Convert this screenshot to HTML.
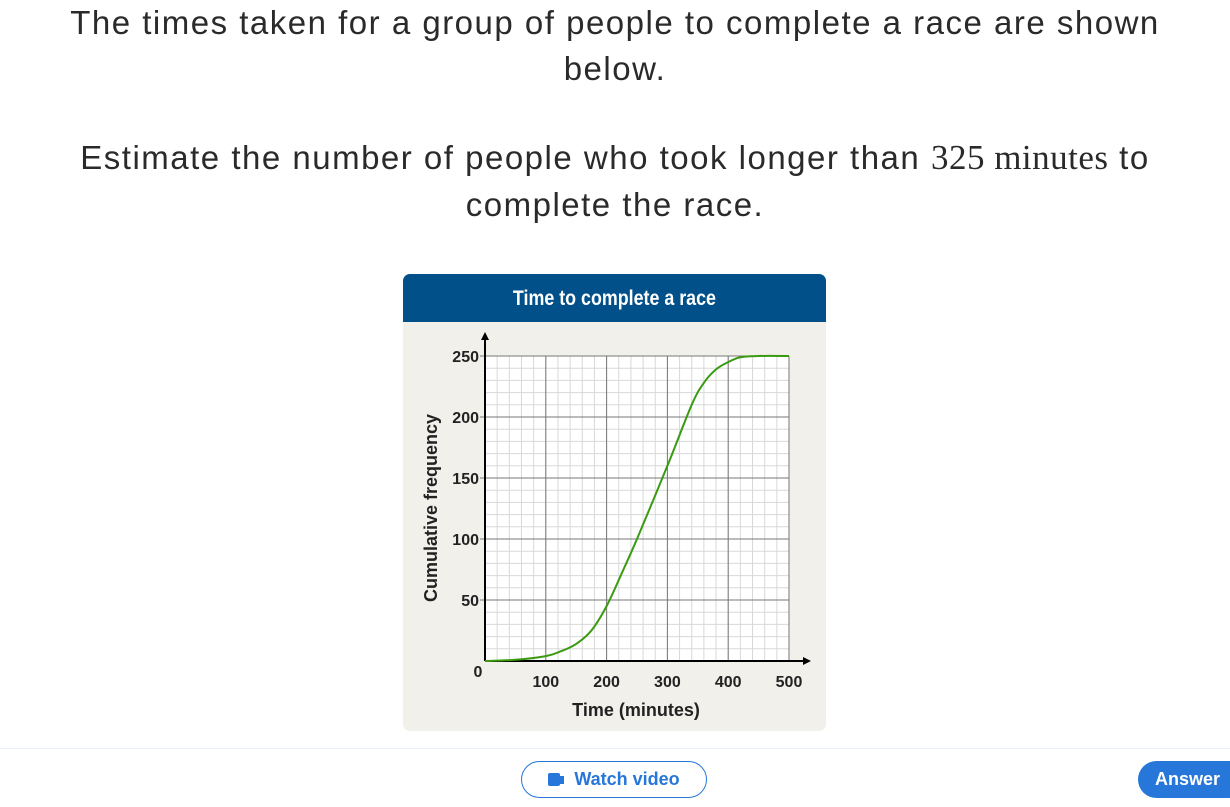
<!DOCTYPE html>
<html><head><meta charset="utf-8"><style>
body{margin:0;width:1230px;height:807px;background:#fff;font-family:"Liberation Sans",sans-serif;color:#2a2a2a;position:relative;overflow:hidden}
.t{position:absolute;left:0;width:1230px;text-align:center;font-size:33px;line-height:46px;letter-spacing:1.5px;white-space:nowrap}
.m{font-family:"Liberation Serif",serif;font-size:35px;letter-spacing:0.5px}
</style></head><body>
<div class="t" style="top:0">The times taken for a group of people to complete a race are shown</div>
<div class="t" style="top:46px">below.</div>
<div class="t" style="top:135px">Estimate the number of people who took longer than <span class="m">325 minutes</span> to</div>
<div class="t" style="top:182px">complete the race.</div>
<div style="position:absolute;left:403px;top:274px;width:423px;height:457px;background:#f2f0eb;border-radius:7px;overflow:hidden">
<div style="height:48px;background:#02508a;color:#fff;font-weight:bold;font-size:21px;line-height:50px;text-align:center;font-family:'Liberation Sans Narrow','Liberation Sans',sans-serif"><span style="display:inline-block;transform:scaleX(0.85)">Time to complete a race</span></div>
</div>
<svg id="c" width="1230" height="807" style="position:absolute;left:0;top:0"></svg>
<div style="position:absolute;left:0;top:748px;width:1230px;height:1px;background:#e8eef5"></div>
<div style="position:absolute;left:521px;top:761px;width:186px;height:37px;border:1px solid #2677d9;border-radius:19px;box-sizing:border-box;color:#2677d9;font-weight:bold;font-size:18px;line-height:35px;text-align:center"><span style="display:inline-block;width:12px;height:13px;background:#2677d9;border-radius:2px;vertical-align:-1px"></span><span style="display:inline-block;width:4px;height:8px;background:#2677d9;margin-right:10px;vertical-align:1px"></span>Watch video</div>
<div style="position:absolute;left:1138px;top:761px;width:110px;height:37px;background:#2677d9;border-radius:19px;color:#fff;font-weight:bold;font-size:18px;line-height:37px;padding-left:17px;box-sizing:border-box">Answer</div>
<script>
const xTicks=[100,200,300,400,500];
const yTicks=[50,100,150,200,250];
const times=[0,50,100,125,150,175,200,225,250,300,340,360,380,400,420,450,500];
const cumFreq=[0,1,4,8,14,25,45,72,100,160,210,228,239,245,249,250,250];
const NS="http://www.w3.org/2000/svg";
const svg=document.getElementById('c');
const X=v=>485+v*(789-485)/500, Y=v=>661-v*(661-356)/250;
function el(t,a,p){const e=document.createElementNS(NS,t);for(const k in a)e.setAttribute(k,a[k]);(p||svg).appendChild(e);return e;}
const bg=el('rect',{x:X(0),y:Y(250),width:X(500)-X(0),height:Y(0)-Y(250),fill:'#fff'});


for(let v=0;v<=500;v+=20){const l=el('line',{x1:X(v),x2:X(v),y1:Y(0),y2:Y(250),stroke:'#d8d8d8','stroke-width':1});}
for(let v=0;v<=250;v+=10){const l=el('line',{x1:X(0),x2:X(500),y1:Y(v),y2:Y(v),stroke:'#d8d8d8','stroke-width':1});}
xTicks.forEach(v=>{const l=el('line',{x1:X(v),x2:X(v),y1:Y(0),y2:Y(250),stroke:'#777','stroke-width':1});
const t=el('text',{x:X(v),y:Y(0)+26,'text-anchor':'middle','font-size':16,'font-weight':'bold',fill:'#222','font-family':'Liberation Sans Narrow,Liberation Sans,sans-serif'});t.textContent=v;});
yTicks.forEach(v=>{const l=el('line',{x1:X(0)-5,x2:X(500),y1:Y(v),y2:Y(v),stroke:'#777','stroke-width':1});
const t=el('text',{x:X(0)-6,y:Y(v)+6,'text-anchor':'end','font-size':16,'font-weight':'bold',fill:'#222','font-family':'Liberation Sans Narrow,Liberation Sans,sans-serif'});t.textContent=v;});
const z=el('text',{x:478,y:677,'text-anchor':'middle','font-size':16,'font-weight':'bold',fill:'#222'});z.textContent='0';
const ax=el('path',{d:`M${X(0)} ${Y(0)}H${X(500)+16}M${X(0)} ${Y(0)}V${Y(250)-18}`,stroke:'#000','stroke-width':2,fill:'none'});
const ar=el('path',{d:`M${X(500)+22} ${Y(0)}l-8 -4v8z M${X(0)} ${Y(250)-24}l-4 8h8z`,fill:'#000'});
const P=times.map((t,i)=>[X(t),Y(cumFreq[i])]);
let d=`M${P[0][0]} ${P[0][1]}`;
for(let i=0;i<P.length-1;i++){const p0=P[Math.max(0,i-1)],p1=P[i],p2=P[i+1],p3=P[Math.min(P.length-1,i+2)];
d+=`C${p1[0]+(p2[0]-p0[0])/6} ${p1[1]+(p2[1]-p0[1])/6} ${p2[0]-(p3[0]-p1[0])/6} ${p2[1]-(p3[1]-p1[1])/6} ${p2[0]} ${p2[1]}`;}
const c=el('path',{d:d,stroke:'#3a9a12','stroke-width':2,fill:'none'});
const xt=el('text',{x:636,y:716,'text-anchor':'middle','font-size':18,'font-weight':'bold',fill:'#222','font-family':'Liberation Sans Narrow,Liberation Sans,sans-serif'});xt.textContent='Time (minutes)';
const yt=el('text',{x:0,y:0,'text-anchor':'middle','font-size':18,'font-weight':'bold',fill:'#222',transform:'translate(437,508) rotate(-90)','font-family':'Liberation Sans Narrow,Liberation Sans,sans-serif'});yt.textContent='Cumulative frequency';
</script>
</body></html>
